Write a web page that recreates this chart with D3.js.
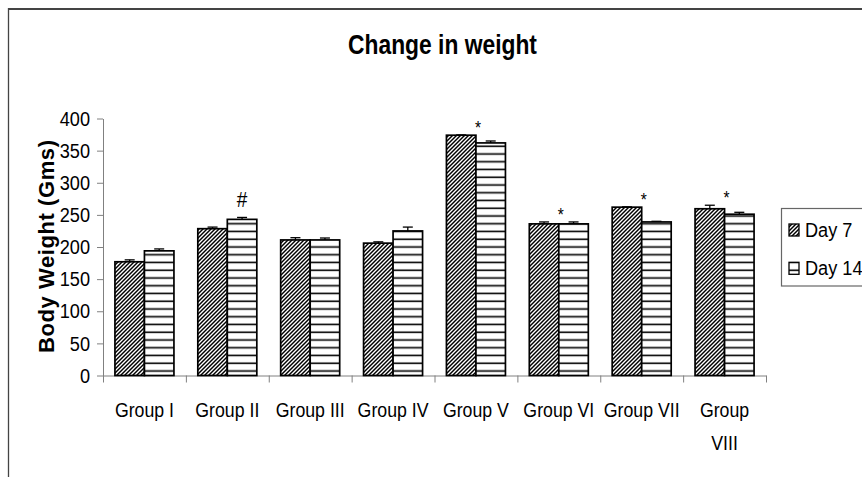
<!DOCTYPE html>
<html>
<head>
<meta charset="utf-8">
<script src="https://cdn.jsdelivr.net/npm/d3@7"></script>
<style>
  html, body { margin: 0; padding: 0; background: #fff; }
  svg { display: block; }
  text { font-family: "Liberation Sans", Arial, sans-serif; fill: #000; }
</style>
</head>
<body>
<svg id="chart" width="862" height="477"></svg>
<script>
// ---- data ----
const categories = ["Group I", "Group II", "Group III", "Group IV", "Group V", "Group VI", "Group VII", "Group VIII"];
const seriesNames = ["Day 7", "Day 14"];
const day7  = [177, 228.5, 211, 206, 374, 236, 262, 259.5];
const day14 = [194, 243, 211, 225, 362, 236, 239, 251];
const err7  = [3, 2.5, 3.5, 2, 0.5, 3, 0.5, 5.5];
const err14 = [3, 3, 3, 6, 3, 3, 1, 3];
const yTicks = [0, 50, 100, 150, 200, 250, 300, 350, 400];
const annotLabels = ["", "#", "", "", "*", "*", "*", "*"];
const annotSeries = [-1, 1, -1, -1, -1, -1, -1, -1]; // -1 = centred over the group
const titleText = "Change in weight";
const yLabelText = "Body Weight (Gms)";

// ---- setup ----
const svg = d3.select("#chart");
const SX = 0.865; // horizontal compression of the original lettering

const values = [day7, day14];
const errs = [err7, err14];

const x = d3.scaleBand().domain(categories).range([103, 766]).paddingInner(0.288).paddingOuter(0.144);
const xSub = d3.scaleBand().domain([0, 1]).range([0, x.bandwidth()]);
const xEdge = d3.scaleLinear().domain([0, categories.length]).range([103, 766]);
const y = d3.scaleLinear().domain([0, 400]).range([375.5, 118.5]);

// patterns
const defs = svg.append("defs");
const pDiag = defs.append("pattern").attr("id", "diag").attr("patternUnits", "userSpaceOnUse")
  .attr("width", 4).attr("height", 4);
pDiag.append("rect").attr("width", 4).attr("height", 4).attr("fill", "#fff");
pDiag.append("path").attr("d", "M-1,1 L1,-1 M0,4 L4,0 M3,5 L5,3")
  .attr("stroke", "#000").attr("stroke-width", 1.45);

const pHor = defs.append("pattern").attr("id", "hor").attr("patternUnits", "userSpaceOnUse")
  .attr("x", 0).attr("y", y(0)).attr("width", 10).attr("height", 7.75);
pHor.append("rect").attr("width", 10).attr("height", 7.75).attr("fill", "#fff");
pHor.append("line").attr("x1", 0).attr("x2", 10).attr("y1", 3.25).attr("y2", 3.25)
  .attr("stroke", "#000").attr("stroke-width", 1.6);
const fills = ["url(#diag)", "url(#hor)"];

// outer frame
svg.append("line").attr("x1", 8).attr("x2", 870).attr("y1", 9).attr("y2", 9)
  .attr("stroke", "#444").attr("stroke-width", 2);
svg.append("line").attr("x1", 8.5).attr("x2", 8.5).attr("y1", 8).attr("y2", 480)
  .attr("stroke", "#444").attr("stroke-width", 1.3);

// title
svg.append("text").attr("transform", `translate(442.5,54) scale(0.83,1)`)
  .attr("text-anchor", "middle").attr("font-size", 27.5).attr("font-weight", "bold")
  .text(titleText);

// y axis
const gy = svg.append("g").attr("transform", `translate(${x.range()[0]},0)`)
  .call(d3.axisLeft(y).tickValues(yTicks).tickSize(6).tickPadding(7).tickSizeOuter(0));
gy.select(".domain").attr("stroke", "#808080");
gy.selectAll(".tick line").attr("stroke", "#808080");
gy.selectAll(".tick text").attr("font-size", 21).attr("font-family", null)
  .attr("transform", function () { const tx = +this.getAttribute("x"); return `translate(${tx},0) scale(${SX},1)`; })
  .attr("x", 0);

// x axis: boundary ticks
const gxe = svg.append("g").attr("transform", `translate(0,${y(0)})`)
  .call(d3.axisBottom(xEdge).tickValues(d3.range(0, categories.length + 1)).tickFormat("").tickSize(7).tickSizeOuter(0));
gxe.select(".domain").attr("stroke", "#808080");
gxe.selectAll(".tick line").attr("stroke", "#808080");

// x axis: labels
const gx = svg.append("g").attr("transform", `translate(0,${y(0)})`)
  .call(d3.axisBottom(x).tickSize(0).tickPadding(27));
gx.select(".domain").remove();
gx.selectAll(".tick text").attr("font-size", 20.5).attr("font-family", null)
  .attr("transform", `scale(${SX},1)`)
  .each(function () {
    const t = d3.select(this);
    const w = this.getComputedTextLength() * SX;
    if (w > 78) {
      const words = t.text().split(" ");
      t.text(null);
      words.forEach((wd, i) => {
        t.append("tspan").attr("x", 0).attr("dy", i === 0 ? "0.71em" : "1.62em").text(wd);
      });
      t.attr("dy", null);
    }
  });

// y label
svg.append("text")
  .attr("transform", `translate(53.5,246.5) rotate(-90)`)
  .attr("text-anchor", "middle").attr("font-size", 22).attr("font-weight", "bold")
  .attr("textLength", 213).attr("lengthAdjust", "spacing")
  .text(yLabelText);

// bars
const bars = svg.append("g");
categories.forEach((c, i) => {
  [0, 1].forEach(s => {
    const v = values[s][i];
    bars.append("rect")
      .attr("x", x(c) + xSub(s)).attr("y", y(v))
      .attr("width", xSub.bandwidth()).attr("height", y(0) - y(v))
      .attr("fill", fills[s]).attr("stroke", "#000").attr("stroke-width", 1.7);
  });
});

// error bars
const eb = svg.append("g").attr("stroke", "#000").attr("stroke-width", 1.3);
categories.forEach((c, i) => {
  [0, 1].forEach(s => {
    const v = values[s][i], e = errs[s][i];
    const cx = x(c) + xSub(s) + xSub.bandwidth() / 2;
    eb.append("line").attr("x1", cx).attr("x2", cx).attr("y1", y(v)).attr("y2", y(v + e));
    eb.append("line").attr("x1", cx - 5).attr("x2", cx + 5).attr("y1", y(v + e)).attr("y2", y(v + e));
  });
});

// annotations
categories.forEach((c, i) => {
  const lab = annotLabels[i];
  if (!lab) return;
  const s = annotSeries[i];
  if (lab === "#") {
    const cx = x(c) + xSub(s) + xSub.bandwidth() / 2;
    const top = values[s][i] + errs[s][i];
    svg.append("text").attr("transform", `translate(${cx},${y(top) - 10}) scale(${SX},1)`)
      .attr("text-anchor", "middle").attr("font-size", 22).text(lab);
  } else {
    const cx = x(c) + x.bandwidth() / 2 + 2;
    const top = Math.max(day7[i] + err7[i], day14[i] + err14[i]);
    svg.append("text").attr("transform", `translate(${cx},${y(top) - 1}) scale(${SX},1)`)
      .attr("text-anchor", "middle").attr("font-size", 18).text(lab);
  }
});

// legend
const lg = svg.append("g");
lg.append("rect").attr("x", 781.5).attr("y", 208.5).attr("width", 120).attr("height", 77.5)
  .attr("fill", "#fff").attr("stroke", "#666").attr("stroke-width", 1.2);
seriesNames.forEach((n, s) => {
  const cy = 230 + s * 38.3;
  lg.append("rect").attr("x", 789).attr("y", cy - 6).attr("width", 10).attr("height", 12)
    .attr("fill", fills[s]).attr("stroke", "#000").attr("stroke-width", 1.3);
  lg.append("text").attr("transform", `translate(805,${cy + 7}) scale(${SX},1)`)
    .attr("font-size", 21).text(n);
});
</script>
</body>
</html>
